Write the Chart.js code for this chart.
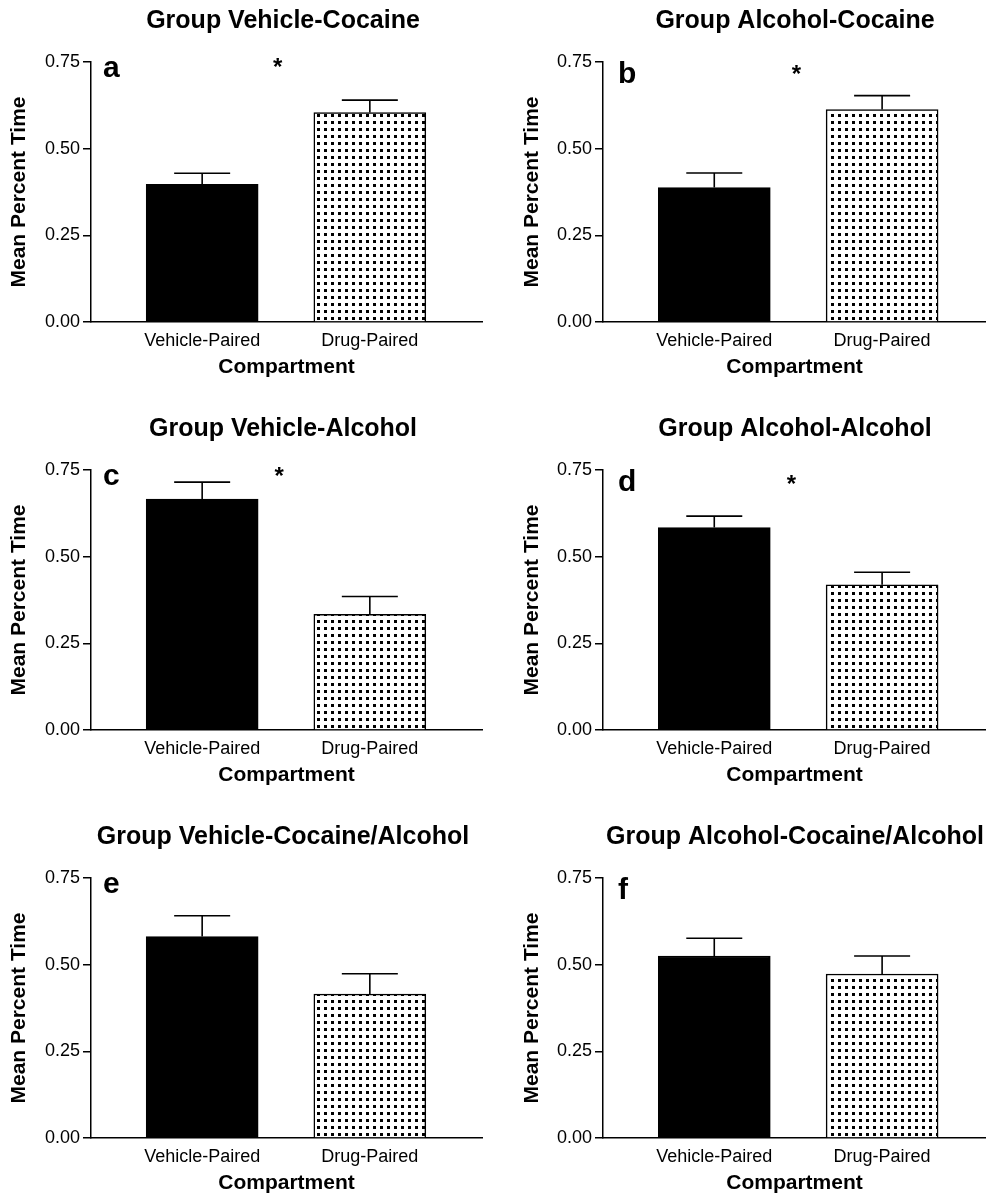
<!DOCTYPE html>
<html>
<head>
<meta charset="utf-8">
<script src="https://cdn.jsdelivr.net/npm/chart.js@4.4.1/dist/chart.umd.min.js"></script>
<style>
  html, body { margin: 0; padding: 0; background: #fff; overflow: hidden; }
  body { width: 986px; height: 1195px; position: relative; }
  canvas { position: absolute; }
</style>
</head>
<body>
<script>
// panel data
const panelLetters = ['a', 'b', 'c', 'd', 'e', 'f'];
const panelTitles = [
  'Group Vehicle-Cocaine',
  'Group Alcohol-Cocaine',
  'Group Vehicle-Alcohol',
  'Group Alcohol-Alcohol',
  'Group Vehicle-Cocaine/Alcohol',
  'Group Alcohol-Cocaine/Alcohol'
];
const categories = ['Vehicle-Paired', 'Drug-Paired'];
const vehicleMeans = [0.397, 0.388, 0.666, 0.584, 0.581, 0.525];
const vehicleSem   = [0.032, 0.042, 0.049, 0.033, 0.060, 0.051];
const drugMeans    = [0.604, 0.613, 0.334, 0.419, 0.415, 0.473];
const drugSem      = [0.036, 0.040, 0.051, 0.036, 0.059, 0.052];
const starY = [0.746, 0.726, 0.743, 0.721, null, null];   // significance marker
const starX = [1.45, 1.49, 1.46, 1.46, null, null];
const yTicks = [0, 0.25, 0.5, 0.75];
const yTitle = 'Mean Percent Time';
const xTitle = 'Compartment';

const FONT = "'Liberation Sans', Arial, Helvetica, sans-serif";
Chart.defaults.font.family = FONT;
Chart.defaults.color = '#000';

// dotted fill for the drug-paired bars
function dotPattern() {
  const tile = document.createElement('canvas');
  tile.width = 7; tile.height = 7;
  const t = tile.getContext('2d');
  t.fillStyle = '#fff';
  t.fillRect(0, 0, 7, 7);
  t.fillStyle = '#000';
  t.fillRect(2, 2, 3, 3);
  return t.createPattern(tile, 'repeat');
}
const dots = dotPattern();

const panelDecor = {
  id: 'panelDecor',
  afterDatasetsDraw(chart, args, opts) {
    const { ctx, chartArea, scales } = chart;
    const i = opts.index;
    const meta = chart.getDatasetMeta(0);
    const means = [vehicleMeans[i], drugMeans[i]];
    const errs = [vehicleSem[i], drugSem[i]];
    ctx.save();
    ctx.strokeStyle = '#000';
    ctx.lineWidth = 1.6;
    meta.data.forEach((bar, j) => {
      const yTop = scales.y.getPixelForValue(means[j] + errs[j]);
      const half = bar.width / 4;
      ctx.beginPath();
      ctx.moveTo(bar.x, bar.y);
      ctx.lineTo(bar.x, yTop);
      ctx.moveTo(bar.x - half, yTop);
      ctx.lineTo(bar.x + half, yTop);
      ctx.stroke();
    });

    ctx.fillStyle = '#000';
    ctx.textBaseline = 'alphabetic';
    ctx.textAlign = 'center';
    ctx.font = 'bold 25px ' + FONT;
    ctx.fillText(panelTitles[i], chartArea.left + 192, chartArea.top - 34);

    ctx.textAlign = 'left';
    ctx.font = 'bold 30px ' + FONT;
    ctx.fillText(panelLetters[i], chartArea.left + opts.letterDx, chartArea.top + opts.letterDy);

    if (starY[i] != null) {
      ctx.textAlign = 'center';
      ctx.font = 'bold 24px ' + FONT;
      ctx.fillText('*', scales.x.getPixelForValue(starX[i]), scales.y.getPixelForValue(starY[i]) + 12);
    }
    ctx.restore();
  }
};

const colLeft = [0, 493];
const rowTop = [0, 408, 816];
const W = 493, H = 390;

panelLetters.forEach((letter, i) => {
  const col = i % 2, row = Math.floor(i / 2);
  const canvas = document.createElement('canvas');
  canvas.width = W; canvas.height = H;
  canvas.style.left = colLeft[col] + 'px';
  canvas.style.top = rowTop[row] + 'px';
  document.body.appendChild(canvas);

  const yWidth = col === 0 ? 91 : 110;
  const xMax = col === 0 ? 2.669 : 2.619;

  new Chart(canvas.getContext('2d'), {
    type: 'bar',
    data: {
      datasets: [{
        data: [
          { x: 1, y: vehicleMeans[i] },
          { x: 2, y: drugMeans[i] }
        ],
        backgroundColor: ['#000', dots],
        borderColor: '#000',
        borderWidth: 1.5,
        barThickness: 112
      }]
    },
    options: {
      responsive: false,
      animation: false,
      devicePixelRatio: 1,
      layout: { padding: { top: 62, right: col === 0 ? 11 : 0, left: 0, bottom: 0 } },
      plugins: {
        legend: { display: false },
        tooltip: { enabled: false },
        panelDecor: { index: i, letterDx: col === 0 ? 12 : 15, letterDy: col === 0 ? 15 : 21 }
      },
      scales: {
        x: {
          type: 'linear',
          min: 0.337,
          max: xMax,
          offset: false,
          grid: { display: false, drawTicks: false, offset: false },
          border: { display: true, color: '#000', width: 1.5 },
          afterBuildTicks: s => { s.ticks = [{ value: 1 }, { value: 2 }]; },
          afterFit: s => { s.height = 68; },
          ticks: {
            autoSkip: false,
            padding: 8,
            font: { size: 18 },
            callback: v => categories[v - 1]
          },
          title: {
            display: true,
            text: xTitle,
            font: { size: 21, weight: 'bold' },
            padding: { top: 0, bottom: 10 }
          }
        },
        y: {
          min: 0,
          max: 0.75,
          afterBuildTicks: s => { s.ticks = yTicks.map(v => ({ value: v })); },
          afterFit: s => { s.width = yWidth; },
          grid: { drawOnChartArea: false, drawTicks: true, tickLength: 8, color: '#000', lineWidth: 1.5 },
          border: { display: true, color: '#000', width: 1.5 },
          ticks: {
            padding: 3,
            font: { size: 18 },
            callback: v => Number(v).toFixed(2)
          },
          title: {
            display: true,
            text: yTitle,
            font: { size: 21, weight: 'bold' },
            padding: { top: col === 0 ? 7 : 27, bottom: 0 }
          }
        }
      }
    },
    plugins: [panelDecor]
  });
});
</script>
</body>
</html>
